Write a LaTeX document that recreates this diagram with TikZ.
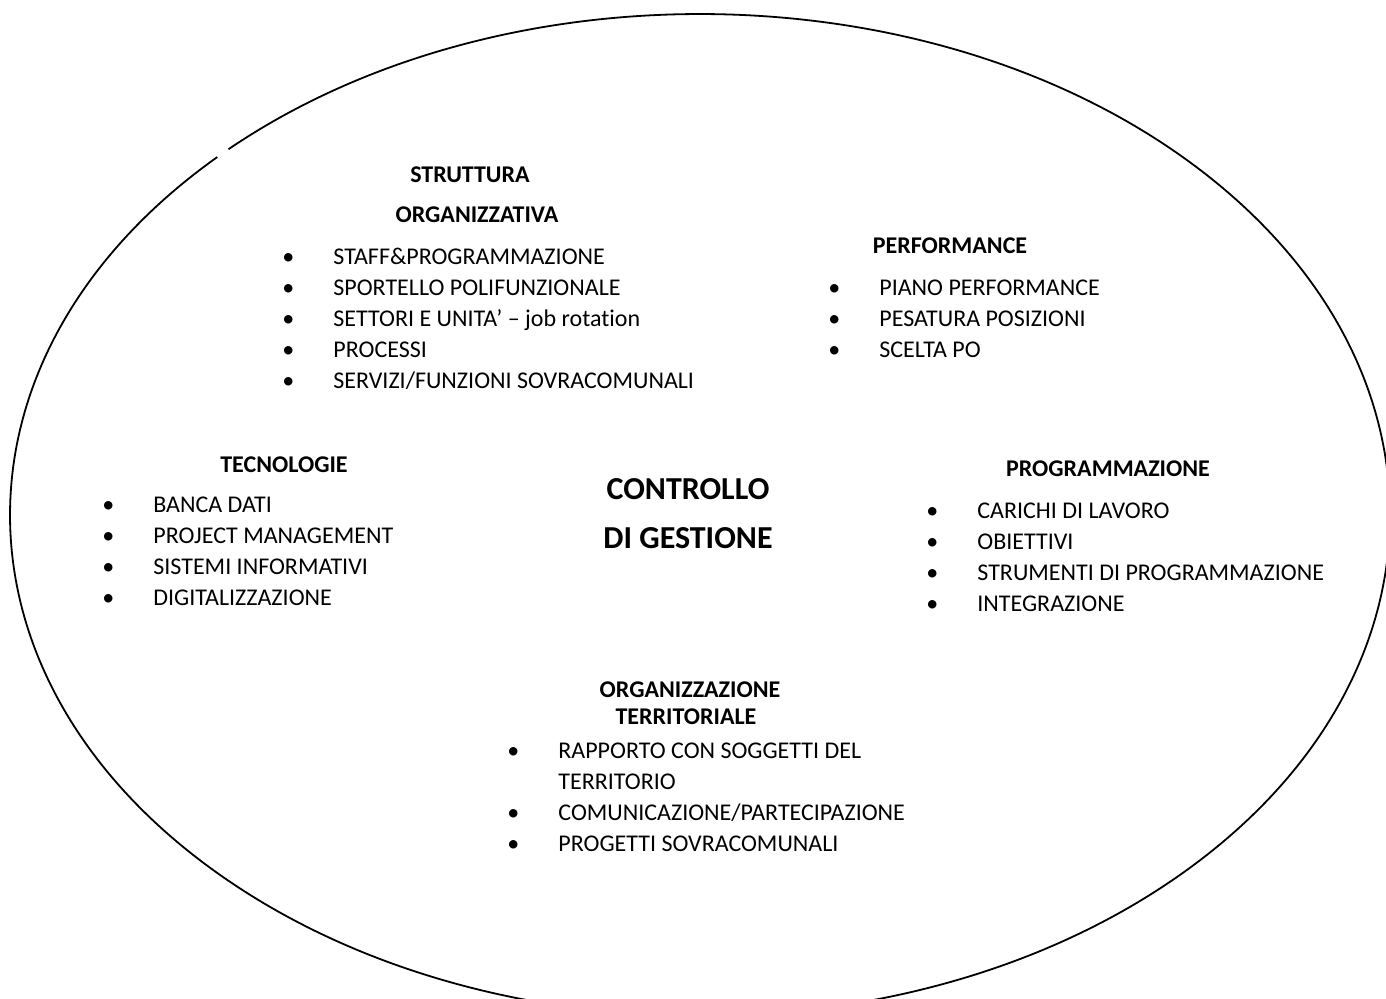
\documentclass[tikz,border=0pt]{standalone}
\usepackage{fontspec}
\setmainfont[Ligatures=NoCommon]{Carlito}
\usetikzlibrary{positioning}
\newcommand{\itm}{\llap{\textbullet\hspace{19.5pt}}}

\begin{document}
\begin{tikzpicture}[x=0.5pt,y=-0.5pt]
  \tikzset{
    heading/.style={font=\bfseries\fontsize{12}{14}\selectfont, inner sep=0pt},
    items/.style={font=\fontsize{12}{15.4}\selectfont, align=left, inner sep=0pt, anchor=north west},
    title/.style={font=\bfseries\fontsize{16}{20}\selectfont, inner sep=0pt},
    outline/.style={line width=0.9pt}
  }
  \useasboundingbox (0,0) rectangle (1386,998);
  % Outer ellipse, with its small gap top left
  \coordinate (centre) at (700,515);
  \draw[outline] (centre) ++(134.4:345pt and 250.5pt)
    arc[start angle=134.4, end angle=493.1, x radius=345pt, y radius=250.5pt];
  % Centre
  \node[title] (controllo) at (688,489) {CONTROLLO};
  \node[title] (gestione) at (688,538) {DI GESTIONE};
  % Struttura organizzativa
  \node[heading] (struttura) at (470,175) {STRUTTURA};
  \node[heading] (organizzativa) at (477,215) {ORGANIZZATIVA};
  \node[items] (struttura-list) at (333,248) {\itm STAFF\&PROGRAMMAZIONE\\
    \itm SPORTELLO POLIFUNZIONALE\\
    \itm SETTORI E UNITA’ – job rotation\\
    \itm PROCESSI\\
    \itm SERVIZI/FUNZIONI SOVRACOMUNALI};
  % Performance
  \node[heading] (performance) at (950,246) {PERFORMANCE};
  \node[items] (performance-list) at (879,280) {\itm PIANO PERFORMANCE\\
    \itm PESATURA POSIZIONI\\
    \itm SCELTA PO};
  % Tecnologie
  \node[heading] (tecnologie) at (284,465) {TECNOLOGIE};
  \node[items] (tecnologie-list) at (153,497) {\itm BANCA DATI\\
    \itm PROJECT MANAGEMENT\\
    \itm SISTEMI INFORMATIVI\\
    \itm DIGITALIZZAZIONE};
  % Programmazione
  \node[heading] (programmazione) at (1108,469) {PROGRAMMAZIONE};
  \node[items] (programmazione-list) at (977,503) {\itm CARICHI DI LAVORO\\
    \itm OBIETTIVI\\
    \itm STRUMENTI DI PROGRAMMAZIONE\\
    \itm INTEGRAZIONE};
  % Organizzazione territoriale
  \node[heading] (organizzazione) at (690,690) {ORGANIZZAZIONE};
  \node[heading] (territoriale) at (686,717) {TERRITORIALE};
  \node[items] (territoriale-list) at (558,743) {\itm RAPPORTO CON SOGGETTI DEL\\
    TERRITORIO\\
    \itm COMUNICAZIONE/PARTECIPAZIONE\\
    \itm PROGETTI SOVRACOMUNALI};
\end{tikzpicture}
\end{document}
